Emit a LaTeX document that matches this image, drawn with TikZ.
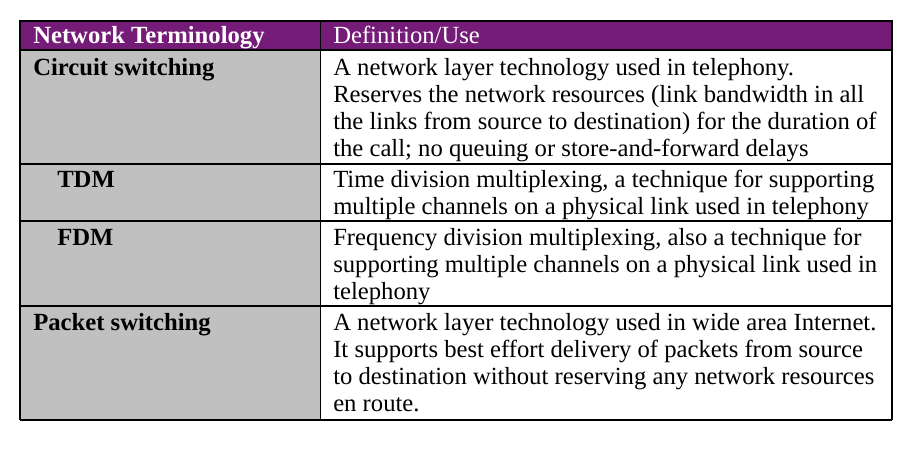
\documentclass[tikz,border=0pt]{standalone}
\usepackage{fontspec}
\setmainfont{Liberation Serif}
\definecolor{termpurple}{RGB}{117,27,120}
\definecolor{termgray}{RGB}{192,192,192}
\begin{document}
\begin{tikzpicture}[x=0.75pt,y=-0.75pt,
  txt/.style={anchor=base west,inner sep=0pt,font=\fontsize{18.5}{20}\selectfont},
  term/.style={txt,font=\fontsize{18.5}{20}\selectfont\bfseries}]
\useasboundingbox (0,0) rectangle (916,450);
\fill[termpurple] (20,21) rectangle (892,50);
\fill[termgray] (20,50) rectangle (320.5,420);
\foreach \y in {21,50,164,221,306,420}
  \draw[line width=1pt] (20,\y) -- (892,\y);
\foreach \x in {20,320.5,892}
  \draw[line width=1pt] (\x,20) -- (\x,420);
\node[term,text=white] (hterm) at (33,43.5) {Network Terminology};
\node[txt,text=white] (hdef) at (333,43.5) {Definition/Use};
\node[term] (circuit) at (33,75) {Circuit switching};
\node[term] (tdm) at (57,187) {TDM};
\node[term] (fdm) at (57,245) {FDM};
\node[term] (packet) at (33,330) {Packet switching};
\foreach \t [count=\i from 0] in {{A network layer technology used in telephony.},
  {Reserves the network resources (link bandwidth in all},
  {the links from source to destination) for the duration of},
  {the call; no queuing or store-and-forward delays}}
  \node[txt] (cdef\i) at (333,75+27*\i) {\t};
\foreach \t [count=\i from 0] in {{Time division multiplexing, a technique for supporting},
  {multiple channels on a physical link used in telephony}}
  \node[txt] (tdef\i) at (333,187+27*\i) {\t};
\foreach \t [count=\i from 0] in {{Frequency division multiplexing, also a technique for},
  {supporting multiple channels on a physical link used in},
  {telephony}}
  \node[txt] (fdef\i) at (333,245+27*\i) {\t};
\foreach \t [count=\i from 0] in {{A network layer technology used in wide area Internet.},
  {It supports best effort delivery of packets from source},
  {to destination without reserving any network resources},
  {en route.}}
  \node[txt] (pdef\i) at (333,330+27*\i) {\t};
\end{tikzpicture}
\end{document}
